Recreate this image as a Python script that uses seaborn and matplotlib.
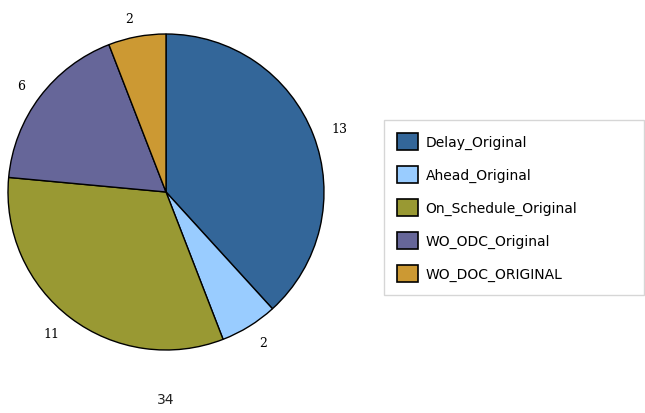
import matplotlib
matplotlib.use("Agg")
import matplotlib.pyplot as plt
import seaborn as sns

# slice data, clockwise from 12 o'clock
categories = ["Delay_Original", "Ahead_Original", "On_Schedule_Original",
              "WO_ODC_Original", "WO_DOC_ORIGINAL"]
counts = [13, 2, 11, 6, 2]
hex_colors = ["#336699", "#99CCFF", "#999933", "#666699", "#CC9933"]

sns.set_theme(style="white")
plt.rcParams["font.family"] = ["DejaVu Sans"]
palette = sns.color_palette(hex_colors)

fig = plt.figure(figsize=(6.45, 4.14), dpi=100)
# square axes holding the pie (centre ~ (166,193) px, radius ~158 px)
ax = fig.add_axes([8 / 645, 63 / 414, 316 / 645, 316 / 414])

wedges, texts = ax.pie(
    counts,
    labels=[str(c) for c in counts],
    colors=palette,
    startangle=90,
    counterclock=False,
    labeldistance=1.12,
    radius=1,
    wedgeprops=dict(edgecolor="black", linewidth=1.0),
    textprops=dict(family="DejaVu Serif", fontsize=9, color="black"),
)
ax.set_xlim(-1, 1)
ax.set_ylim(-1, 1)
ax.axis("off")

# total under the pie
fig.text(166 / 645, 1 - 400 / 414, str(sum(counts)), ha="center", va="center",
         fontsize=10, color="#222222")

leg = fig.legend(
    wedges, categories,
    loc="upper left",
    bbox_to_anchor=(384 / 645, 1 - 298 / 414, 260 / 645, 177 / 414),
    mode="expand",
    borderaxespad=0,
    frameon=True,
    fancybox=False,
    edgecolor="#cccccc",
    fontsize=10,
    labelspacing=1.15,
    handlelength=1.5,
    handleheight=1.5,
    handletextpad=0.55,
    borderpad=0.95,
    labelcolor="black",
)
leg.get_frame().set_linewidth(1.0)
for h in leg.legend_handles:
    h.set_edgecolor("black")
    h.set_linewidth(1.2)

fig.savefig("out.png", dpi=100, facecolor="white")
